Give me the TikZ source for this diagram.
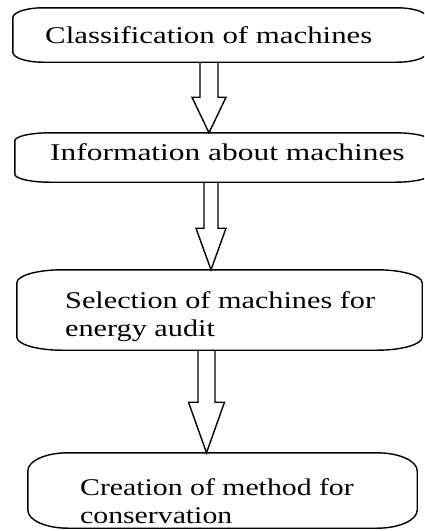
\documentclass[tikz,border=0pt]{standalone}
\usepackage{fontspec}
\setmainfont{Liberation Serif}
\usetikzlibrary{calc}
\newcommand\eboxdraw[3]{% node, rx, ry
\draw[boxline] ([xshift=#2]#1.north west) -- ([xshift=-#2]#1.north east)
 .. controls ([xshift=-0.45*#2]#1.north east) and ([yshift=-0.45*#3]#1.north east) .. ([yshift=-#3]#1.north east)
 -- ([yshift=#3]#1.south east)
 .. controls ([yshift=0.45*#3]#1.south east) and ([xshift=-0.45*#2]#1.south east) .. ([xshift=-#2]#1.south east)
 -- ([xshift=#2]#1.south west)
 .. controls ([xshift=0.45*#2]#1.south west) and ([yshift=0.45*#3]#1.south west) .. ([yshift=#3]#1.south west)
 -- ([yshift=-#3]#1.north west)
 .. controls ([yshift=-0.45*#3]#1.north west) and ([xshift=0.45*#2]#1.north west) .. cycle;}
\newcommand\blockarrow[6]{% from, to, x coordinate, half shaft, half head, shaft length
\draw[arrowline] ([xshift=-#4]#3 |- #1.south) -- ([xshift=-#4,yshift=-#6]#3 |- #1.south)
 -- ([xshift=-#5,yshift=-#6]#3 |- #1.south) -- (#3 |- #2.north)
 -- ([xshift=#5,yshift=-#6]#3 |- #1.south) -- ([xshift=#4,yshift=-#6]#3 |- #1.south)
 -- ([xshift=#4]#3 |- #1.south);}
\newcommand\txtlines[2][1.25]{\scalebox{#1}[1]{\begin{tabular}[t]{@{}l@{}}#2\end{tabular}}}
\begin{document}
\begin{tikzpicture}[x=1pt,y=-1pt,
  boxnode/.style={rectangle,draw=none,inner sep=0pt},
  boxline/.style={draw=black,line width=1.4pt},
  arrowline/.style={draw=black,line width=1.4pt,line join=miter},
  txt/.style={inner sep=0pt,anchor=base west,font=\fontsize{24}{28.5}\selectfont}]
\useasboundingbox (0,0) rectangle (424,531);
\clip (0,0) rectangle (424,531);
\fill[white] (0,0) rectangle (424,531);
% boxes
\node[boxnode,minimum width=414pt,minimum height=54pt] (b1) at (220,35) {};
\node[boxnode,minimum width=415pt,minimum height=49pt] (b2) at (222.5,157.5) {};
\node[boxnode,minimum width=405pt,minimum height=80pt] (b3) at (219.5,310) {};
\node[boxnode,minimum width=389pt,minimum height=75pt] (b4) at (222.5,490.5) {};
\eboxdraw{b1}{30pt}{10pt}
\eboxdraw{b2}{35pt}{8pt}
\eboxdraw{b3}{45pt}{13pt}
\eboxdraw{b4}{40pt}{18pt}
% texts
\node[txt] (t1) at (45,43) {\txtlines[1.285]{Classification of machines}};
\node[txt] (t2) at (50,160) {\txtlines[1.31]{Information about machines}};
\node[txt] (t3) at (65,308) {\txtlines[1.26]{Selection of machines for\\energy audit}};
\node[txt] (t4) at (80,495) {\txtlines[1.24]{Creation of method for\\conservation}};
% arrows
\coordinate (ax1) at (209,0);
\coordinate (ax2) at (211,0);
\coordinate (ax3) at (206.5,0);
\blockarrow{b1}{b2}{ax1}{9pt}{17pt}{35pt}
\blockarrow{b2}{b3}{ax2}{7pt}{15pt}{46pt}
\blockarrow{b3}{b4}{ax3}{8.5pt}{18pt}{52pt}
\end{tikzpicture}
\end{document}
